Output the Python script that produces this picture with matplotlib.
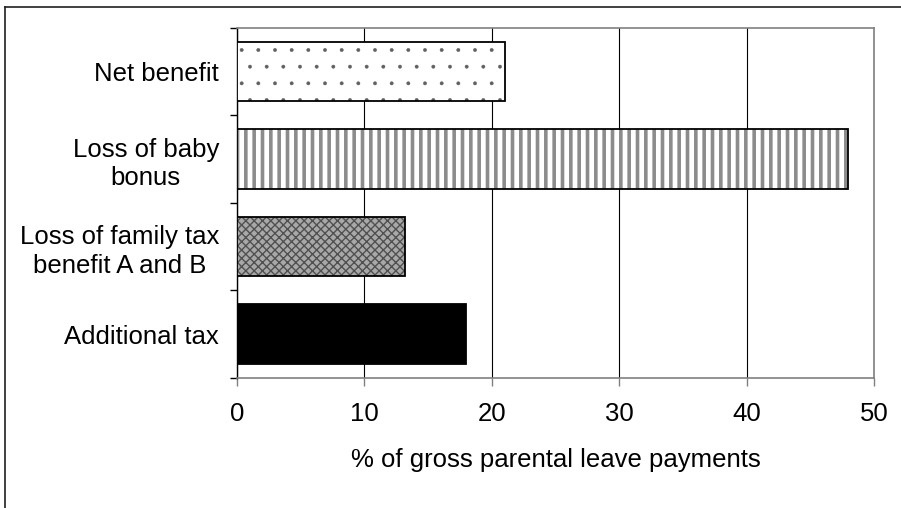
import matplotlib.pyplot as plt
from matplotlib.lines import Line2D

plt.rcParams["font.family"] = ["Liberation Sans", "DejaVu Sans"]

# contributions to gross parental leave payments (%)
categories = ["Additional tax", "Loss of family tax\nbenefit A and B", "Loss of baby\nbonus", "Net benefit"]
values = [18, 13.2, 48, 21]
hatches = [None, "xxxx", "||", "."]
faces = ["black", "#a8a8a8", "white", "white"]
hatch_colors = ["black", "#505050", "#8c8c8c", "#606060"]
hatch_widths = [1.0, 1.0, 2.6, 0.3]

fig = plt.figure(figsize=(9.01, 5.08), dpi=100)
ax = fig.add_axes([0.263, 0.256, 0.707, 0.689])

pos = list(range(len(categories)))
for i in pos:
    with plt.rc_context({"hatch.linewidth": hatch_widths[i]}):
        ax.barh(pos[i], values[i], height=0.68, color=faces[i], edgecolor=hatch_colors[i],
                hatch=hatches[i], linewidth=0, zorder=3)
# black outline over the patterned fill
ax.barh(pos, values, height=0.68, fill=False, edgecolor="black", linewidth=1.3, zorder=4)

ax.set_xlim(0, 50)
ax.set_ylim(-0.5, 3.5)
ax.set_xticks(range(0, 51, 10))
ax.xaxis.grid(True, color="black", linewidth=0.8, zorder=0)
ax.set_axisbelow(True)

# category boundaries as ticks, names centred between them
ax.set_yticks([-0.5, 0.5, 1.5, 2.5, 3.5])
ax.set_yticklabels([])
ax.set_yticks(pos, minor=True)
ax.set_yticklabels(categories, minor=True, fontsize=18.5, linespacing=1.25)
for lbl in ax.get_yticklabels(minor=True):
    lbl.set_multialignment("center")
ax.tick_params(axis="y", which="minor", length=0, pad=13)
ax.tick_params(axis="y", which="major", length=5, width=1, color="black")
ax.tick_params(axis="x", length=6, width=1, color="#808080", labelsize=18.5, pad=11)

for side in ["top", "right", "bottom"]:
    ax.spines[side].set_color("#808080")
    ax.spines[side].set_linewidth(1.2)
ax.spines["left"].set_color("black")
ax.spines["left"].set_linewidth(1.0)

ax.set_xlabel("% of gross parental leave payments", fontsize=18.5, labelpad=16)

# outer frame, top and left edges only
fig.add_artist(Line2D([0.006, 1.0], [0.986, 0.986], transform=fig.transFigure, color="#202020", linewidth=1.2))
fig.add_artist(Line2D([0.006, 0.006], [0.0, 0.986], transform=fig.transFigure, color="#202020", linewidth=1.2))

fig.savefig("out.png", dpi=100)
